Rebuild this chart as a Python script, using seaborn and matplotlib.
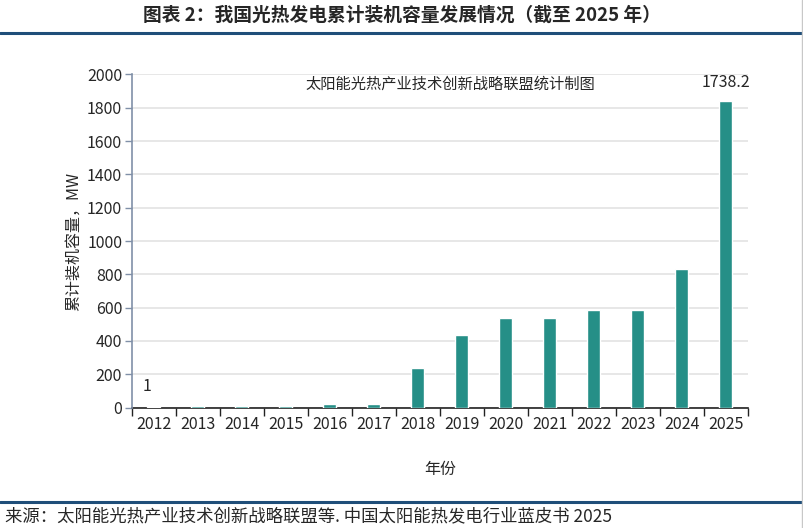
import numpy as np
import pandas as pd
import matplotlib
matplotlib.use("Agg")
import matplotlib.pyplot as plt
import seaborn as sns
from matplotlib.ticker import FixedLocator

# -----------------------------------
# DATA
# -----------------------------------

years = ["2012", "2013", "2014", "2015", "2016", "2017", "2018",
         "2019", "2020", "2021", "2022", "2023", "2024", "2025"]
capacity = [1, 12, 12, 12, 22, 22, 236, 436, 535, 535, 587, 587, 835, 1838]
label_first = "1"
label_last = "1738.2"
y_ticks = [0, 200, 400, 600, 800, 1000, 1200, 1400, 1600, 1800, 2000]

df = pd.DataFrame({"year": years, "capacity": capacity})

# -----------------------------------
# STYLE
# -----------------------------------

sns.set_style("white")
plt.rcParams['font.family'] = ['Noto Sans CJK SC', 'DejaVu Sans']

BAR_COLOR = "#258f87"
LINE_BLUE = "#1f4e79"

fig = plt.figure(figsize=(8.04, 5.28), dpi=100)
ax = fig.add_axes([0.164, 0.228, 0.766, 0.631])

sns.barplot(data=df, x="year", y="capacity", color=BAR_COLOR,
            width=0.3, ax=ax, saturation=1, zorder=3)

ax.set_xlim(-0.5, len(years) - 0.5)
ax.set_ylim(0, 2000)
ax.set_yticks(y_ticks)
ax.yaxis.grid(True, color="#e3e3e3", linewidth=1.2)
ax.set_axisbelow(True)

# category boundary ticks on x axis
ax.xaxis.set_minor_locator(FixedLocator(np.arange(-0.5, len(years), 1.0)))
ax.tick_params(axis="x", which="major", length=0, labelsize=11.5, pad=6)
ax.tick_params(axis="x", which="minor", length=6, width=1, color="#222222",
               direction="out", bottom=True)
ax.tick_params(axis="y", length=5, width=1, color="#8090a8",
               direction="out", labelsize=11.5, pad=2, left=True)

for s in ["top", "right"]:
    ax.spines[s].set_visible(False)
ax.spines["left"].set_color("#8090a8")
ax.spines["left"].set_linewidth(1.2)
ax.spines["bottom"].set_color("#222222")
ax.spines["bottom"].set_linewidth(1.2)
ax.spines["bottom"].set_zorder(2)

ax.set_xlabel("年份", fontsize=11.5, labelpad=20)
ax.set_ylabel("累计装机容量，MW", fontsize=11.5, labelpad=4)

# annotations
ax.text(-0.16, 124, label_first, ha="center", va="center", fontsize=11.5)
ax.text(len(years) - 1, 1950, label_last, ha="center", va="center", fontsize=11.5)
ax.text(6.73, 1940, "太阳能光热产业技术创新战略联盟统计制图",
        ha="center", va="center", fontsize=11)

# -----------------------------------
# HEADER / FOOTER
# -----------------------------------

fig.text(0.5, 0.972, "图表 2：我国光热发电累计装机容量发展情况（截至 2025 年）",
         ha="center", va="center", fontsize=13.5, fontweight="bold")
fig.add_artist(plt.Line2D([0, 1], [0.938, 0.938], color=LINE_BLUE,
                          linewidth=2.2, transform=fig.transFigure))
fig.add_artist(plt.Line2D([0, 1], [0.049, 0.049], color=LINE_BLUE,
                          linewidth=2.2, transform=fig.transFigure))
fig.add_artist(plt.Line2D([0.998, 0.998], [0, 1], color="#c8c8c8",
                          linewidth=1, transform=fig.transFigure))
fig.text(0.006, 0.022, "来源：太阳能光热产业技术创新战略联盟等. 中国太阳能热发电行业蓝皮书 2025",
         ha="left", va="center", fontsize=12.5)

plt.savefig("out.png", dpi=100)
